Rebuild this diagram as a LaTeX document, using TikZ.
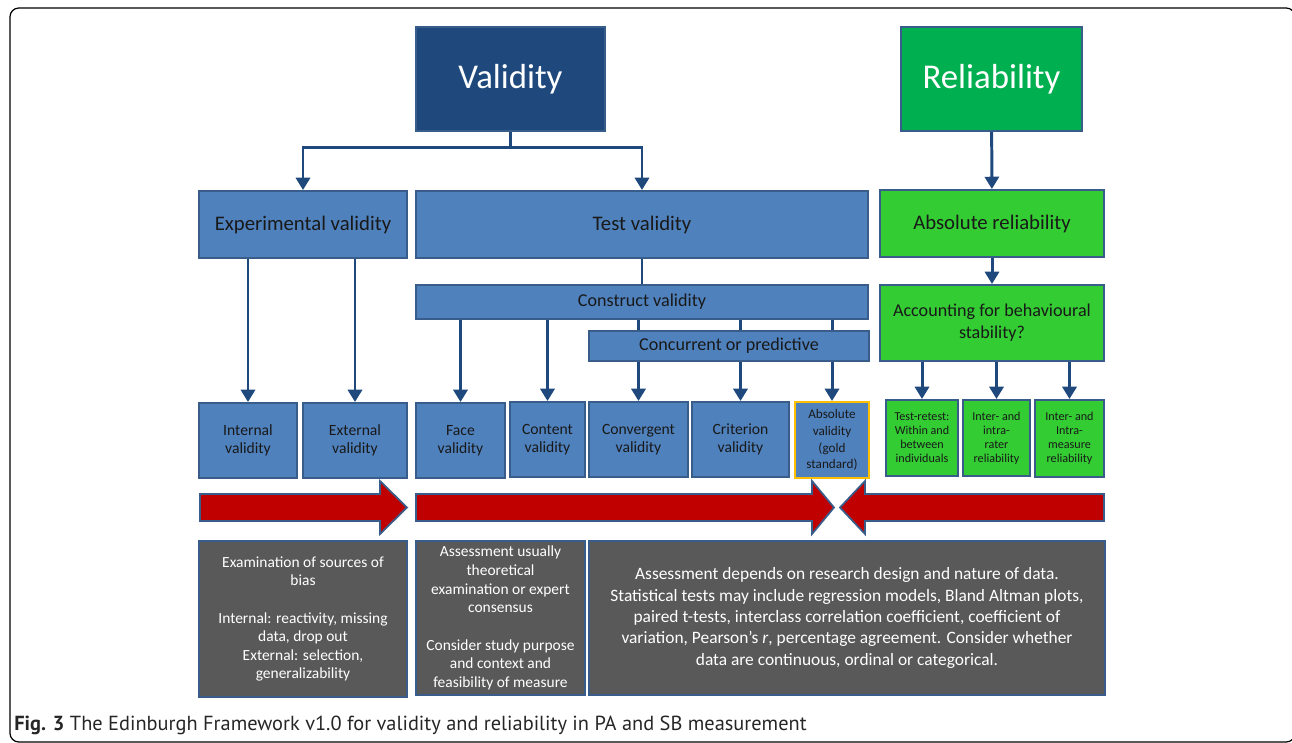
\documentclass[tikz,border=0pt]{standalone}
\usepackage{fontspec}
\setmainfont{Carlito}
\newfontfamily\capfont{PT Sans}
\usepackage{xcolor}
\usepackage{tikz}
\usetikzlibrary{arrows.meta}
\definecolor{valblue}{RGB}{31,73,125}
\definecolor{boxblue}{RGB}{79,129,189}
\definecolor{edgeblue}{RGB}{56,93,138}
\definecolor{relgreen}{RGB}{0,176,80}
\definecolor{litgreen}{RGB}{51,204,51}
\definecolor{slate}{RGB}{89,89,89}
\definecolor{arrred}{RGB}{192,0,0}
\definecolor{gold}{RGB}{255,192,0}
\newcommand{\fs}[2]{\fontsize{#1}{#2}\selectfont}

\begin{document}
\begin{tikzpicture}[x=0.02cm, y=-0.02cm,
  every node/.style={inner sep=1pt, align=center},
  box/.style={draw=edgeblue, line width=1.1pt, fill=boxblue, text=black!90},
  gbox/.style={box, fill=litgreen},
  dbox/.style={box, fill=slate, text=white},
  lnk/.style={draw=valblue, line width=1.7pt},
  arr/.style={lnk, -{Triangle[width=8pt,length=7pt]}},
  redarrow/.style={fill=arrred, draw=edgeblue, line width=1pt}]
\useasboundingbox (0,0) rectangle (1292,743);
\draw[line width=0.7pt, rounded corners=5pt] (10,8) rectangle (1295,742);

% Top level
\node[box, fill=valblue, text=white, font=\fs{19.8}{22}, minimum width=3.78cm, minimum height=2.08cm] (Val) at (510.5,79) {Validity};
\node[box, fill=relgreen, text=white, font=\fs{19.8}{22}, minimum width=3.62cm, minimum height=2.08cm] (Rel) at (991.5,79) {Reliability};

% Second level
\node[box, font=\fs{11.8}{13}, minimum width=4.16cm, minimum height=1.34cm] (EV) at (303,224.5) {Experimental validity};
\node[box, font=\fs{11.8}{13}, minimum width=9.04cm, minimum height=1.34cm] (TV) at (642,224.5) {Test validity};
\node[gbox, font=\fs{11.8}{13}, minimum width=4.48cm, minimum height=1.34cm] (AR) at (992,223.5) {Absolute reliability};

% Third level
\node[box, font=\fs{10.3}{12}, minimum width=9.04cm, minimum height=0.68cm] (CV) at (642,302) {Construct validity};
\node[box, font=\fs{10.3}{12}, minimum width=5.6cm, minimum height=0.6cm] (CP) at (729,346) {Concurrent or predictive};
\node[gbox, font=\fs{10.3}{12.5}, minimum width=4.48cm, minimum height=1.52cm] (AB) at (992,323) {Accounting for behavioural\\stability?};

% Bottom row
\node[box, font=\fs{8.9}{10.2}, minimum width=1.96cm, minimum height=1.5cm] (IV) at (248,440.5) {Internal\\validity};
\node[box, font=\fs{8.9}{10.2}, minimum width=2.08cm, minimum height=1.5cm] (XV) at (355,440.5) {External\\validity};
\node[box, font=\fs{8.9}{10.2}, minimum width=1.78cm, minimum height=1.5cm] (FV) at (460.5,440.5) {Face\\validity};
\node[box, font=\fs{8.9}{10.2}, minimum width=1.5cm, minimum height=1.5cm] (CoV) at (547.5,439.5) {Content\\validity};
\node[box, font=\fs{8.9}{10.2}, minimum width=1.98cm, minimum height=1.5cm] (CgV) at (638.5,439.5) {Convergent\\validity};
\node[box, font=\fs{8.9}{10.2}, minimum width=1.94cm, minimum height=1.5cm] (CrV) at (740.5,439.5) {Criterion\\validity};
\node[box, draw=gold, font=\fs{7.5}{9.5}, minimum width=1.48cm, minimum height=1.52cm] (AV) at (832,440) {Absolute\\validity\\(gold\\standard)};
\node[gbox, font=\fs{6.9}{8}, minimum width=1.44cm, minimum height=1.52cm] (TR) at (922,438) {Test-retest:\\Within and\\between\\individuals};
\node[gbox, font=\fs{6.9}{8}, minimum width=1.34cm, minimum height=1.52cm] (IR) at (996.5,438) {Inter- and\\intra-\\rater\\reliability};
\node[gbox, font=\fs{6.9}{8}, minimum width=1.38cm, minimum height=1.54cm] (IM) at (1069.5,438.5) {Inter- and\\Intra-\\measure\\reliability};

% Connectors
\draw[lnk] (Val.south) -- ++(0,16) coordinate (vsplit);
\draw[arr] (vsplit) -| (EV.north);
\draw[arr] (vsplit) -| (TV.north);
\draw[arr] (Rel) -- (AR);
\draw[lnk] (TV) -- (CV);
\draw[arr] (AR) -- (AB);
\draw[arr] (EV.south -| IV.north) -- (IV);
\draw[arr] (EV.south -| XV.north) -- (XV);
\draw[arr] (CV.south -| FV.north) -- (FV);
\draw[arr] (CV.south -| CoV.north) -- (CoV);
\foreach \b in {CgV,CrV,AV} {
  \draw[lnk] (CV.south -| \b.north) -- (CP.north -| \b.north);
  \draw[arr] (CP.south -| \b.north) -- (\b);
}
\foreach \b in {TR,IR,IM}
  \draw[arr] (AB.south -| \b.north) -- (\b);

% Red block arrows
\filldraw[redarrow] (200,494) -- (380,494) -- (380,481) -- (407,507.5) -- (380,534) -- (380,521) -- (200,521) -- cycle;
\filldraw[redarrow] (416,494) -- (812,494) -- (812,481) -- (834,507.5) -- (812,534) -- (812,521) -- (416,521) -- cycle;
\filldraw[redarrow] (1104,494) -- (865,494) -- (865,481) -- (840,507.5) -- (865,534) -- (865,521) -- (1104,521) -- cycle;

% Notes
\node[dbox, font=\fs{8.8}{10.6}, minimum width=4.16cm, minimum height=3.12cm] (N1) at (303,619) {Examination of sources of\\bias\\[10.6pt]Internal: reactivity, missing\\data, drop out\\External: selection,\\generalizability};
\node[dbox, font=\fs{8.8}{10.6}, minimum width=3.38cm, minimum height=3.08cm] (N2) at (500.5,618) {Assessment usually\\theoretical\\examination or expert\\consensus\\[10.6pt]Consider study purpose\\and context and\\feasibility of measure};
\node[dbox, font=\fs{9.9}{12.2}, minimum width=10.32cm, minimum height=3.08cm] (N3) at (847,618) {Assessment depends on research design and nature of data.\\Statistical tests may include regression models, Bland Altman plots,\\paired t-tests, interclass correlation coefficient, coefficient of\\variation, Pearson’s \textit{r}, percentage agreement. Consider whether\\data are continuous, ordinal or categorical.};

% Caption
\node[anchor=base west, inner sep=0pt, text=black!85, font=\capfont\fs{11.6}{13}] (cap) at (14,730) {\textbf{Fig. 3} The Edinburgh Framework v1.0 for validity and reliability in PA and SB measurement};
\end{tikzpicture}
\end{document}
